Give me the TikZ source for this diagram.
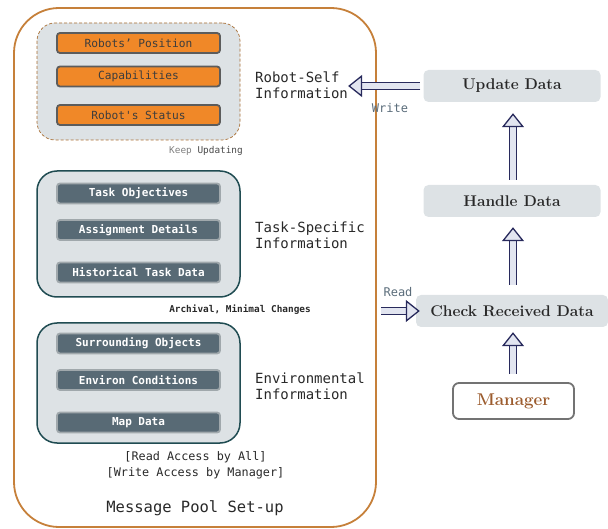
\documentclass[tikz,border=0pt]{standalone}
\usepackage{fontspec}
\setmonofont{DejaVu Sans Mono}
\usetikzlibrary{arrows.meta}
\definecolor{poolbrown}{RGB}{198,128,58}
\definecolor{grpfill}{RGB}{221,226,229}
\definecolor{orangefill}{RGB}{240,136,40}
\definecolor{boxgray}{RGB}{92,92,92}
\definecolor{teal}{RGB}{32,76,82}
\definecolor{slate}{RGB}{88,106,117}
\definecolor{slateborder}{RGB}{160,168,172}
\definecolor{navy}{RGB}{40,42,92}
\definecolor{arrowfill}{RGB}{226,229,240}
\definecolor{mgrbrown}{RGB}{156,92,46}
\definecolor{textdark}{RGB}{40,40,40}
\definecolor{labelslate}{RGB}{90,108,122}
\tikzset{
  poolbox/.style={draw=poolbrown, line width=1.8pt, rounded corners=45pt, minimum width=362pt, minimum height=519pt, inner sep=0pt},
  grpdashed/.style={draw=poolbrown!85!black, densely dashed, line width=0.7pt, fill=grpfill, rounded corners=18pt, minimum width=203pt, minimum height=117pt, inner sep=0pt},
  grpsolid/.style={draw=teal, line width=1.5pt, fill=grpfill, rounded corners=20pt, minimum width=203pt, inner sep=0pt},
  orangebox/.style={draw=boxgray, line width=1.8pt, fill=orangefill, rounded corners=3pt, minimum width=163pt, minimum height=20pt, inner sep=0pt, text=textdark!90, font=\ttfamily\fontsize{11.2}{13}\selectfont},
  slatebox/.style={draw=slateborder, line width=1.8pt, fill=slate, rounded corners=3pt, minimum width=163pt, minimum height=20pt, inner sep=0pt, text=white, font=\ttfamily\bfseries\fontsize{11}{13}\selectfont},
  infolabel/.style={anchor=west, align=left, inner sep=2pt, text=textdark, font=\ttfamily\fontsize{14}{16}\selectfont},
  smallnote/.style={inner sep=0pt, font=\ttfamily\fontsize{9.4}{11}\selectfont},
  stepnode/.style={fill=grpfill, rounded corners=5pt, minimum width=177pt, minimum height=32pt, inner sep=0pt, text=textdark, font=\bfseries\fontsize{15.5}{18}\selectfont},
  fatarrow/.style={draw=navy, line width=1.3pt, double=arrowfill, double distance=6pt, -{Triangle[length=14pt, width=22pt, fill=arrowfill]}},
  rwlabel/.style={inner sep=0pt, text=labelslate, font=\ttfamily\fontsize{12}{14}\selectfont}
}
\begin{document}
\begin{tikzpicture}[x=1pt,y=-1pt]
\useasboundingbox (0,0) rectangle (608,529);
% message pool
\node[poolbox] (pool) at (195,267.5) {};
% group 1
\node[grpdashed] (g1) at (138.5,81.5) {};
\node[orangebox] (rp) at (138.5,43) {Robots’ Position};
\node[orangebox] (cap) at (138.5,76.5) {Capabilities};
\node[orangebox] (rs) at (138.5,115) {Robot's Status};
\node[smallnote, anchor=east] (keep) at (243,151) {\textcolor{gray}{Keep} \textcolor{textdark!85}{Updating}};
\node[infolabel] (rsinfo) at (253,85) {Robot-Self\\Information};
% group 2
\node[grpsolid, minimum height=126pt] (g2) at (138.5,234) {};
\node[slatebox] (to) at (138.5,193.5) {Task Objectives};
\node[slatebox] (ad) at (138.5,230) {Assignment Details};
\node[slatebox] (ht) at (138.5,272.5) {Historical Task Data};
\node[smallnote, text=textdark] (arch) at (240,310) {\bfseries Archival, Minimal Changes};
\node[infolabel] (tsinfo) at (253,235.5) {Task-Specific\\Information};
% group 3
\node[grpsolid, minimum height=120pt] (g3) at (138.5,383) {};
\node[slatebox] (so) at (138.5,343.5) {Surrounding Objects};
\node[slatebox] (ec) at (138.5,380) {Environ Conditions};
\node[slatebox] (md) at (138.5,422.5) {Map Data};
\node[infolabel] (envinfo) at (253,386.5) {Environmental\\Information};
% access notes
\node[inner sep=0pt, text=textdark, font=\ttfamily\fontsize{11.8}{14}\selectfont] (racc) at (195.5,457) {[Read Access by All]};
\node[inner sep=0pt, text=textdark, font=\ttfamily\fontsize{11.8}{14}\selectfont] (wacc) at (195.5,473) {[Write Access by Manager]};
\node[inner sep=0pt, text=textdark, font=\ttfamily\fontsize{15.5}{18}\selectfont] (mps) at (195,508) {Message Pool Set-up};
% right side
\node[stepnode] (upd) at (512,86) {Update Data};
\node[stepnode] (hdl) at (512,201) {Handle Data};
\node[stepnode, minimum width=192pt] (chk) at (512,311) {Check Received Data};
\node[draw=gray!90!black, line width=1.8pt, fill=white, rounded corners=6pt, minimum width=121pt, minimum height=36pt, inner sep=0pt, text=mgrbrown, font=\bfseries\fontsize{17}{20}\selectfont] (mgr) at (513.5,401) {Manager};
% arrows
\draw[fatarrow, shorten <=3pt, shorten >=-2pt] (upd.west) -- (upd.west -| rsinfo.east);
\node[rwlabel] (wr) at (390,108) {Write};
\draw[fatarrow, shorten <=5pt, shorten >=11pt] (hdl.north -| 513,0) -- (upd.south -| 513,0);
\draw[fatarrow, shorten <=10pt, shorten >=10pt] (chk.north -| 513,0) -- (hdl.south -| 513,0);
\draw[fatarrow, shorten <=8pt, shorten >=5pt] (mgr.north -| 513,0) -- (chk.south -| 513,0);
\draw[fatarrow, shorten <=4pt, shorten >=-4pt] (pool.east |- chk.west) -- (chk.west);
\node[rwlabel] (rd) at (398,292) {Read};
\end{tikzpicture}
\end{document}
